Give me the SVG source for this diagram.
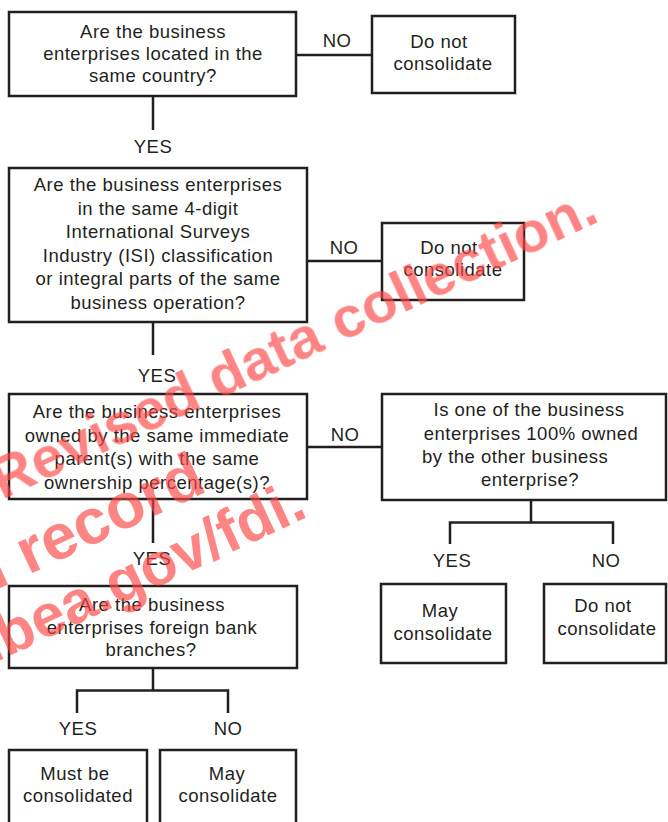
<svg xmlns="http://www.w3.org/2000/svg" width="668" height="822" viewBox="0 0 668 822">
<style>
.box{fill:#fff;stroke:#231f20;stroke-width:2.5}
.ln{fill:none;stroke:#231f20;stroke-width:2.5}
text{font-family:"Liberation Sans",Arial,sans-serif;font-size:18.5px;letter-spacing:0.5px;fill:#231f20}
.c{text-anchor:middle}
.wm{font-family:"Liberation Sans",Arial,sans-serif;font-weight:bold;font-size:58px;letter-spacing:0;fill:#ff4545}
</style>
<rect width="668" height="822" fill="#fff"/>
<g id="connectors">
<path class="ln" d="M296,55H372"/>
<path class="ln" d="M153,96V130"/>
<path class="ln" d="M307,261H382"/>
<path class="ln" d="M153,322V355"/>
<path class="ln" d="M307,447H382"/>
<path class="ln" d="M153,499V543"/>
<path class="ln" d="M531,500V522.5M450,544V522.5H613V544"/>
<path class="ln" d="M153,668V690.5M77,713V690.5H228V713"/>
<text class="c" x="337" y="47">NO</text>
<text class="c" x="153" y="153">YES</text>
<text class="c" x="344" y="254">NO</text>
<text class="c" x="157" y="382">YES</text>
<text class="c" x="345" y="441">NO</text>
<text class="c" x="152" y="565">YES</text>
<text class="c" x="452" y="567">YES</text>
<text class="c" x="606" y="567">NO</text>
<text class="c" x="78" y="735">YES</text>
<text class="c" x="228" y="735">NO</text>
</g>
<g id="q1">
<rect class="box" x="9" y="12" width="287" height="84"/>
<text class="c" x="153" y="38">Are the business</text>
<text class="c" x="153" y="60">enterprises located in the</text>
<text class="c" x="153" y="82">same country?</text>
</g>
<g id="r1">
<rect class="box" x="372" y="16" width="143" height="77"/>
<text class="c" x="439" y="48">Do not</text>
<text class="c" x="443" y="70">consolidate</text>
</g>
<g id="q2">
<rect class="box" x="9" y="168" width="298" height="154"/>
<text class="c" x="158" y="191">Are the business enterprises</text>
<text class="c" x="158" y="214.5">in the same 4-digit</text>
<text class="c" x="158" y="238">International Surveys</text>
<text class="c" x="158" y="261.5">Industry (ISI) classification</text>
<text class="c" x="158" y="285">or integral parts of the same</text>
<text class="c" x="158" y="308.5">business operation?</text>
</g>
<g id="r2">
<rect class="box" x="382" y="223" width="142" height="77"/>
<text class="c" x="449" y="254">Do not</text>
<text class="c" x="453" y="276">consolidate</text>
</g>
<g id="q3">
<rect class="box" x="9" y="394" width="298" height="105"/>
<text class="c" x="157" y="418">Are the business enterprises</text>
<text class="c" x="157" y="441.5">owned by the same immediate</text>
<text class="c" x="157" y="465">parent(s) with the same</text>
<text class="c" x="157" y="488.5">ownership percentage(s)?</text>
</g>
<g id="q4">
<rect class="box" x="382" y="394" width="284" height="106"/>
<text class="c" x="529" y="416">Is one of the business</text>
<text class="c" x="531" y="440">enterprises 100% owned</text>
<text x="422" y="463">by the other business</text>
<text class="c" x="530" y="486">enterprise?</text>
</g>
<g id="r4a">
<rect class="box" x="381" y="584" width="125" height="79"/>
<text class="c" x="440" y="617">May</text>
<text class="c" x="443" y="639.5">consolidate</text>
</g>
<g id="r4b">
<rect class="box" x="544" y="584" width="122" height="79"/>
<text class="c" x="603" y="612">Do not</text>
<text class="c" x="607" y="634.5">consolidate</text>
</g>
<g id="q5">
<rect class="box" x="9" y="586" width="288" height="82"/>
<text class="c" x="152" y="611">Are the business</text>
<text class="c" x="152" y="633.5">enterprises foreign bank</text>
<text class="c" x="151" y="656">branches?</text>
</g>
<g id="r5a">
<rect class="box" x="9" y="750" width="138" height="85"/>
<text class="c" x="75" y="780">Must be</text>
<text class="c" x="78" y="802">consolidated</text>
</g>
<g id="r5b">
<rect class="box" x="160" y="750" width="136" height="85"/>
<text class="c" x="227" y="780">May</text>
<text class="c" x="228" y="802">consolidate</text>
</g>
<g id="watermark" opacity="0.66">
<text class="wm" transform="translate(2,500) rotate(-25)">Revised data collection.</text>
<text class="wm" style="font-size:64px" transform="translate(-4,590) rotate(-25)">l record</text>
<text class="wm" style="font-size:60px" transform="translate(-8,664) rotate(-25)">.bea.gov/fdi.</text>
</g>
</svg>
